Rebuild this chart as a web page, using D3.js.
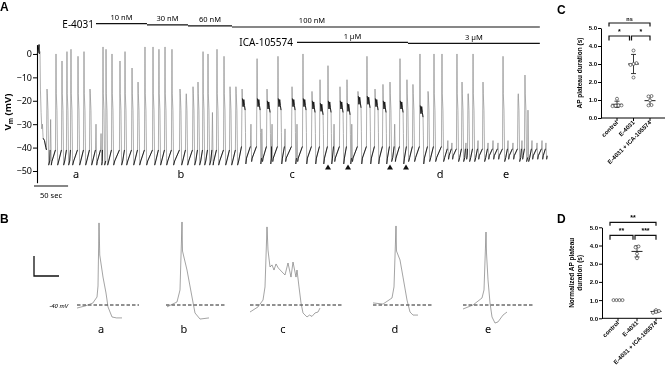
<!DOCTYPE html>
<meta charset="utf-8">
<head>
  <script src="https://d3js.org/d3.v7.min.js"></script>
  <style>
    body { margin: 0; background: #fff; }
    svg { will-change: transform; }
    svg text { font-family: "Noto Sans", sans-serif; fill: #000; }
    .gp text { font-family: "Liberation Sans", Arial, sans-serif; font-weight: bold; }
  </style>
</head>
<body>
<script>
  // ---- panel A : membrane potential recording (time in s, Vm in mV)
  var initT  = [0, 1.5, 2.5, 3, 3.5, 4.4, 5, 6, 7, 8, 9, 11, 13];
  var initMv = [0, 0.5, 3, 4, 0, 1, -15, -25, -32, -30, -36, -37, -40];

  // before ICA (a, b)
  var abT    = [14.7, 20, 27.9, 36.7, 44, 49.9, 60.2, 69, 77.8, 86.6, 94, 96.9, 101.3, 110.1, 121.8, 129.2, 139.5,
                148.3, 158.5, 170.3, 179, 187.9, 198.1, 209.9, 218.7, 229, 236.3, 243.7, 251, 257.5, 264.2, 274.5, 283.3, 292];
  var abPeak = [-15, -28, 0, -3, 1, 2, -1, 1, -15, -30, -34, 3, 2, 0, -3, 1, -6,
                -12, 3, 3, 2, 3, 2, -15, -20, -14, -12, 1, 0, -25, 2, -1, -14, -14];
  // E-4031 100 nM (c) : long plateaus
  var cT     = [301, 314, 323, 330, 337.6, 345, 353.7, 364, 374.3, 381.6, 390.4, 403.6, 415.4, 427.1, 436, 444.7,
                455, 462, 471.1, 484.3, 496.1, 507.8, 518.1, 525, 532.8, 543, 551.8, 562.1, 573.9, 582.7, 594.4];
  var cPeak  = [-15, -30, -2, -32, -15, -30, -1, -32, -14, -30, 0, -16, -11, -5, -30, -14,
                -11, -30, -16, -1, -15, -13, -12, -30, -2, -11, -13, 0, -16, 0, 0];
  var cPlat  = [-21, null, -21, null, -22, null, -21, null, -21, null, -21, -22, -23, -22, null, -22,
                -23, null, -20, -20, -21, -22, null, null, -22, null, null, -24, null, null, null];
  // ICA 3 uM (d, e)
  var deT    = [603, 609, 616.4, 623.8, 629.6, 632.6, 640, 647.3, 654.6, 662, 669.3, 676.6, 684, 691.3, 698.6,
                706, 711.8, 716.2, 719.2, 726.5, 733.9, 741.2, 747];
  var dePeak = [-37, -38, 0, -12, -38, -17, 0, -37, -12, -38, -37, -38, -1, -37, -38,
                -19, -37, -9, 0, -37, -38, -37, -38];

  var mvTicks = [0, -10, -20, -30, -40, -50];
  var e4031Conc = ["10 nM", "30 nM", "60 nM", "100 nM"];
  var e4031Start = [86.6, 161.4, 221.6, 286.2];
  var icaConc = ["1 \u00b5M", "3 \u00b5M"];
  var icaStart = [381.6, 544.5];
  var drugEnd = 738;
  var markT = [427.1, 456.5, 518.1, 541.6];
  var sampleLabels = ["a", "b", "c", "d", "e"];
  var sampleT = [57.2, 211.3, 374.3, 591.5, 688.4];

  // ---- panel B : single APs (s from upstroke, mV)
  var bTraceA = [[-1.76,-41.6],[-1.1,-40.5],[-0.5,-39],[-0.16,-35.8],[-0.08,-30],[0,3.2],[0.06,-13.7],[0.32,-25.3],
                 [0.56,-33.7],[0.72,-41],[1.04,-46.3],[1.4,-46.8],[1.84,-46.8]];
  var bTraceB = [[-1.2,-41],[-0.4,-38.4],[-0.16,-32.1],[0,3.7],[0.04,-11.6],[0.4,-21.6],[0.8,-35.8],[1.04,-44.2],
                 [1.44,-47.4],[2.16,-46.8]];
  var bTraceC = [[-1.36,-43.7],[-0.72,-41],[-0.32,-37.4],[-0.16,-30.5],[0,1.1],[0.08,-11.1],[0.24,-20],[0.4,-18.9],
                 [0.56,-21.6],[0.72,-18.4],[0.9,-20.5],[1.2,-22.6],[1.44,-24.2],[1.68,-17.9],[1.92,-25.3],[2.08,-17.4],
                 [2.32,-25.3],[2.4,-21.6],[2.56,-30.5],[2.72,-38.9],[2.88,-44.2],[3.2,-46.3],[3.4,-45.3],[3.6,-46],
                 [3.84,-44.2],[4.08,-43.7],[4.24,-41.6]];
  var bTraceD = [[-1.84,-38.9],[-1.04,-39.5],[-0.32,-36.3],[-0.16,-30.5],[0,1.6],[0.04,-11.6],[0.32,-16.3],[0.56,-25.3],
                 [0.88,-37.4],[1.12,-43.7],[1.36,-45.3],[1.76,-45.3]];
  var bTraceE = [[-1.84,-42.1],[-1.04,-40],[-0.32,-36.3],[-0.16,-32.1],[0,-1.6],[0.04,-12.6],[0.16,-26.8],[0.32,-38.9],
                 [0.48,-46.3],[0.72,-49.5],[0.96,-48.9],[1.36,-45.3],[1.68,-43.7]];
  var bDashFrom = [-1.76, -1.28, -1.36, -1.84, -1.84];
  var bDashTo = [3.2, 3.52, 6.08, 2.96, 3.76];

  // ---- panels C and D
  var cats = ["control", "E-4031", "E-4031 + ICA-105574"];
  var cControl = [1.07, 0.7, 0.68, 0.66, 0.7];
  var cE4031 = [3.75, 3.05, 3.0, 2.95, 2.25];
  var cCombo = [1.22, 1.2, 0.98, 0.72, 0.7];
  var cSig = ["*", "*", "ns"];
  var dControl = [1, 1, 1, 1];
  var dE4031 = [3.95, 3.9, 3.55, 3.3];
  var dCombo = [0.45, 0.4, 0.35, 0.3];
  var dSig = ["**", "***", "**"];
  var yTicks = [0, 1, 2, 3, 4, 5];

  var svg = d3.select("body").append("svg").attr("width", 667).attr("height", 376);

  function panelLetter(t, x, y) {
    svg.append("text").attr("x", x).attr("y", y).text(t)
      .style("font-family", "Liberation Sans, Arial, sans-serif")
      .attr("font-weight", "bold").attr("font-size", 12);
  }
  panelLetter("A", 0, 11);
  panelLetter("B", 0, 223);
  panelLetter("C", 557, 14);
  panelLetter("D", 557, 223);

  // ================= A
  var xA = d3.scaleLinear().domain([0, 750]).range([37, 548]);
  var yA = d3.scaleLinear().domain([-55, 4]).range([182.7, 44.6]);

  var axA = svg.append("g").attr("transform", "translate(37,0)")
    .call(d3.axisLeft(yA).tickValues(mvTicks).tickSize(4).tickSizeOuter(0).tickPadding(1));
  axA.select(".domain").attr("stroke-width", 1.1);
  axA.selectAll("text").attr("font-size", 9).style("font-family", "Noto Sans, sans-serif").attr("fill", "#111");

  var vm = svg.append("text").attr("transform", "translate(11,112) rotate(-90)")
    .attr("text-anchor", "middle").attr("font-size", 9.5).attr("font-weight", "bold");
  vm.append("tspan").text("V");
  vm.append("tspan").attr("font-size", 6.5).attr("dy", 2).text("m");
  vm.append("tspan").attr("dy", -2).text(" (mV)");

  // build the trace: [time, mV, drawn dark?]
  var pts = initT.map(function (t, i) { return [t, initMv[i], i < 5 || i > 9]; });
  function addAP(t, peak, plat, trough, thr) {
    pts.push([t - 0.8, thr, true]);
    pts.push([t, peak, false]);
    if (plat != null) {
      pts.push([t + 0.5, plat + 2, true]); pts.push([t + 1.5, plat - 1.5, true]); pts.push([t + 2.5, plat + 1.5, true]);
      pts.push([t + 3.5, plat - 1, true]); pts.push([t + 4.5, plat - 3, true]);
      pts.push([t + 5, (plat + trough) / 2, false]);
      pts.push([t + 5.5, trough - 1, true]); pts.push([t + 6.5, trough + 1.5, true]);
    } else if (peak > -25) {
      pts.push([t + 0.4, -17, false]); pts.push([t + 1.4, -24, false]); pts.push([t + 2.4, trough, true]);
      pts.push([t + 4, trough + 1.8, true]);
    } else {
      pts.push([t + 1, trough, true]); pts.push([t + 1.8, trough + 1.5, true]);
    }
  }
  abT.forEach(function (t, i) { addAP(t, abPeak[i], null, -47.5, -41); });
  cT.forEach(function (t, i) { addAP(t, cPeak[i], cPlat[i], -46, -39.5); });
  deT.forEach(function (t, i) { addAP(t, dePeak[i], null, dePeak[i] > -25 ? -46 : -45, -40.5); });
  var clean = [];
  pts.forEach(function (p) {
    if (!clean.length || p[0] > clean[clean.length - 1][0]) clean.push(p);
  });

  var traceLine = d3.line().x(function (d) { return xA(d[0]); }).y(function (d) { return yA(d[1]); });
  svg.append("path").datum(clean).attr("d", traceLine)
    .attr("fill", "none").attr("stroke", "#8c8c8c").attr("stroke-width", 0.7);
  svg.append("path").datum(clean).attr("d", traceLine.defined(function (d) { return d[2]; }))
    .attr("fill", "none").attr("stroke", "#111").attr("stroke-width", 0.9);

  // drug application bars
  function drugBar(names, starts, y0, labelY) {
    names.forEach(function (n, i) {
      var x1 = xA(starts[i]), x2 = xA(i < starts.length - 1 ? starts[i + 1] : drugEnd);
      var y = y0 + i * 1.1;
      svg.append("line").attr("x1", x1).attr("x2", x2).attr("y1", y).attr("y2", y)
        .attr("stroke", "#111").attr("stroke-width", 1.2);
      var lx = (n == "100 nM") ? x1 + 80 : (x1 + x2) / 2;
      svg.append("text").attr("x", lx).attr("y", labelY + i * 1.2).attr("text-anchor", "middle")
        .attr("font-size", 7.5).text(n);
    });
  }
  svg.append("text").attr("x", 94).attr("y", 27.5).attr("text-anchor", "end").attr("font-size", 10).text("E-4031");
  drugBar(e4031Conc, e4031Start, 23.7, 19.5);
  svg.append("text").attr("x", 293).attr("y", 45.5).attr("text-anchor", "end").attr("font-size", 10).text("ICA-105574");
  drugBar(icaConc, icaStart, 42.3, 38.5);

  // arrowheads and sample letters
  svg.selectAll(".mark").data(markT).enter().append("path")
    .attr("d", function (t) { var x = xA(t), y = yA(-48.3); return "M" + (x - 3) + "," + (y + 2.5) + "L" + (x + 3) + "," + (y + 2.5) + "L" + x + "," + (y - 2.5) + "Z"; })
    .attr("fill", "#111");
  sampleLabels.forEach(function (s, i) {
    svg.append("text").attr("x", xA(sampleT[i])).attr("y", 178).attr("text-anchor", "middle")
      .attr("font-size", 11).text(s);
  });

  // 50 s scale bar
  svg.append("line").attr("x1", xA(-4.4)).attr("x2", xA(45.6)).attr("y1", 186).attr("y2", 186)
    .attr("stroke", "#111").attr("stroke-width", 1.2);
  svg.append("text").attr("x", xA(20.6)).attr("y", 197.5).attr("text-anchor", "middle").attr("font-size", 7.5).text("50 sec");

  // ================= B
  var sB = d3.scaleLinear().domain([0, 1]).range([0, 12.5]);
  var yB = d3.scaleLinear().domain([-40, 10]).range([305, 210]);
  var bTraces = [bTraceA, bTraceB, bTraceC, bTraceD, bTraceE];
  var bPos = [99, 182, 267, 396, 486];
  var bLab = [101, 184, 283, 395, 488];

  bTraces.forEach(function (tr, i) {
    var x0 = bPos[i];
    svg.append("line").attr("x1", x0 + sB(bDashFrom[i])).attr("x2", x0 + sB(bDashTo[i]))
      .attr("y1", yB(-40)).attr("y2", yB(-40))
      .attr("stroke", "#222").attr("stroke-width", 1).attr("stroke-dasharray", "3.5,2");
    svg.append("path").datum(tr)
      .attr("d", d3.line().x(function (d) { return x0 + sB(d[0]); }).y(function (d) { return yB(d[1]); }))
      .attr("fill", "none").attr("stroke", "#666").attr("stroke-width", 0.6);
    svg.append("text").attr("x", bLab[i]).attr("y", 333).attr("text-anchor", "middle")
      .attr("font-size", 11).text(sampleLabels[i]);
  });
  svg.append("text").attr("x", 68).attr("y", 307.5).attr("text-anchor", "end")
    .attr("font-size", 6).attr("font-style", "italic").attr("fill", "#333").text("-40 mV");
  // scale bar (10 mV, 2 s)
  svg.append("path")
    .attr("d", "M34," + (276 - (yB(-40) - yB(-29.5))) + "V276H" + (34 + sB(2)))
    .attr("fill", "none").attr("stroke", "#111").attr("stroke-width", 1.3);

  // ================= C and D
  function dodge(vals, step) {
    var idx = vals.map(function (v, i) { return i; }).sort(function (a, b) { return vals[a] - vals[b]; });
    var off = [], grp = [];
    function flush() {
      grp.forEach(function (k, j) { off[k] = (j - (grp.length - 1) / 2) * step; });
      grp = [];
    }
    idx.forEach(function (k) {
      if (grp.length && vals[k] - vals[grp[0]] > 0.15) flush();
      grp.push(k);
    });
    flush();
    return off;
  }

  function dotPanel(groups, sig, y, xr, axisEnd, titleLines, titleX) {
    var g = svg.append("g").attr("class", "gp");
    var x = d3.scalePoint().domain(cats).range(xr);
    var y0 = y(0);

    var ax = g.append("g").attr("transform", "translate(" + (xr[0] - 16) + ",0)")
      .call(d3.axisLeft(y).tickValues(yTicks).tickSize(3).tickSizeOuter(0).tickPadding(1));
    ax.select(".domain").attr("stroke-width", 1);
    ax.selectAll("text").attr("font-size", 6).style("font-family", "Liberation Sans, Arial, sans-serif")
      .attr("font-weight", "bold").attr("fill", "#111");
    g.append("line").attr("x1", xr[0] - 16).attr("x2", axisEnd).attr("y1", y0).attr("y2", y0)
      .attr("stroke", "#000").attr("stroke-width", 1);

    cats.forEach(function (c, i) {
      var cx = x(c), vals = groups[i];
      g.append("line").attr("x1", cx).attr("x2", cx).attr("y1", y0).attr("y2", y0 + 3).attr("stroke", "#000");
      g.append("text").attr("transform", "translate(" + (cx + 1.5) + "," + (y0 + 5) + ") rotate(-45)")
        .attr("text-anchor", "end").attr("font-size", 6).text(c);

      var m = d3.mean(vals), sd = d3.deviation(vals);
      g.append("line").attr("x1", cx).attr("x2", cx).attr("y1", y(m - sd)).attr("y2", y(m + sd))
        .attr("stroke", "#222").attr("stroke-width", 0.9);
      [m - sd, m + sd].forEach(function (v) {
        g.append("line").attr("x1", cx - 2.5).attr("x2", cx + 2.5).attr("y1", y(v)).attr("y2", y(v))
          .attr("stroke", "#222").attr("stroke-width", 0.9);
      });
      g.append("line").attr("x1", cx - 5.5).attr("x2", cx + 5.5).attr("y1", y(m)).attr("y2", y(m))
        .attr("stroke", "#222").attr("stroke-width", 1);

      var off = dodge(vals, 3);
      vals.forEach(function (v, k) {
        g.append("circle").attr("cx", cx + off[k]).attr("cy", y(v)).attr("r", 1.5)
          .attr("fill", "#fff").attr("stroke", "#444").attr("stroke-width", 0.7);
      });
    });

    // significance brackets
    function bracket(xa, xb, yy, label, h) {
      g.append("path").attr("d", "M" + xa + "," + (yy + h) + "V" + yy + "H" + xb + "V" + (yy + h))
        .attr("fill", "none").attr("stroke", "#111").attr("stroke-width", 1.2);
      g.append("text").attr("x", (xa + xb) / 2).attr("y", yy - 2.5).attr("text-anchor", "middle")
        .attr("font-size", label == "ns" ? 5.5 : 7).attr("font-weight", "normal").text(label);
    }
    var xc = cats.map(function (c) { return x(c); });
    var top = y(5);
    bracket(xc[0] - 8, xc[1] - 4, top + 8, sig[0], 4.5);
    bracket(xc[1] - 2, xc[2] + 0, top + 8, sig[1], 4.5);
    bracket(xc[0] - 8, xc[2] + 0, top - 5, sig[2], 3.5);

    var cy = (y(0) + y(5)) / 2;
    titleLines.forEach(function (t, i) {
      g.append("text").attr("transform", "translate(" + (titleX + i * 7.5) + "," + cy + ") rotate(-90)")
        .attr("text-anchor", "middle").attr("font-size", 6.5).text(t);
    });
  }

  dotPanel([cControl, cE4031, cCombo], cSig,
    d3.scaleLinear().domain([0, 5]).range([118, 28]), [617, 650], 665, ["AP plateau duration (s)"], 582);
  dotPanel([dControl, dE4031, dCombo], dSig,
    d3.scaleLinear().domain([0, 5]).range([318.3, 227.3]), [618, 656], 662, ["Normalized AP plateau", "duration (s)"], 574);
</script>
</body>
</html>
